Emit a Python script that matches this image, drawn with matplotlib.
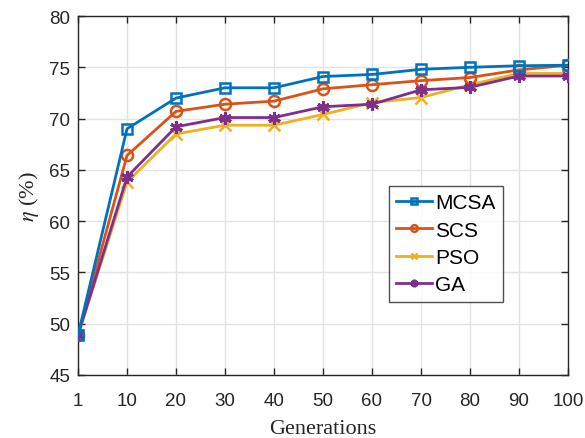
import matplotlib
matplotlib.use('Agg')
import matplotlib.pyplot as plt

# data
gens = ['1', '10', '20', '30', '40', '50', '60', '70', '80', '90', '100']
mcsa = [48.9, 69.0, 72.0, 73.0, 73.0, 74.1, 74.3, 74.8, 75.0, 75.15, 75.2]
scs  = [48.9, 66.4, 70.7, 71.4, 71.7, 72.9, 73.3, 73.7, 74.0, 74.75, 75.2]
pso  = [48.9, 63.8, 68.5, 69.35, 69.35, 70.4, 71.55, 72.05, 73.3, 74.4, 74.4]
ga   = [48.9, 64.3, 69.2, 70.1, 70.1, 71.15, 71.4, 72.8, 73.05, 74.15, 74.15]

x = list(range(len(gens)))

plt.rcParams['font.family'] = ['Liberation Sans', 'DejaVu Sans']
plt.rcParams['mathtext.fontset'] = 'stix'

fig = plt.figure(figsize=(5.85, 4.39), dpi=100)
ax = fig.add_axes([78/585, 1-376/439, (568-78)/585, (376-17)/439])

lw = 2
ax.plot(x, mcsa, color='#0072BD', lw=lw, marker='s', ms=7, mfc='none', mew=1.8, label='MCSA', zorder=5)
ax.plot(x, scs, color='#D95319', lw=lw, marker='o', ms=8, mfc='none', mew=1.8, label='SCS', zorder=4)
ax.plot(x, pso, color='#EDB120', lw=lw, marker='x', ms=8, mew=1.8, label='PSO', zorder=3)
ax.plot(x, ga, color='#7E2F8E', lw=lw, marker=(6, 2, 0), ms=9, mew=2.2, label='GA', zorder=4)

ax.set_xlim(0, len(gens)-1)
ax.set_ylim(45, 80)
ax.set_xticks(x)
ax.set_xticklabels(gens)
ax.set_yticks(range(45, 81, 5))

ax.grid(True, color='#e3e3e3', lw=1)
ax.set_axisbelow(True)
for s in ax.spines.values():
    s.set_color('#262626')
    s.set_linewidth(1)
ax.tick_params(direction='in', length=5, width=1, top=True, right=True,
               labelsize=13.5, colors='#262626')
ax.tick_params(axis='x', pad=12.5)
ax.tick_params(axis='y', pad=5.5)

ax.set_xlabel('Generations', fontsize=16, family='Liberation Serif', color='#262626', labelpad=7)
ax.set_ylabel(r'$\eta$ (%)', fontsize=16, family='Liberation Serif', color='#262626', labelpad=6)

leg = ax.legend(loc='upper left', bbox_to_anchor=((389-78)/490, (376-187)/359),
                fontsize=15, frameon=True, fancybox=False, borderaxespad=0,
                handlelength=1.7, handletextpad=0.15, labelspacing=0.4,
                borderpad=0.35, markerscale=0.6)
leg.get_frame().set_edgecolor('#262626')
leg.get_frame().set_linewidth(1)

fig.savefig('out.png', dpi=100)
